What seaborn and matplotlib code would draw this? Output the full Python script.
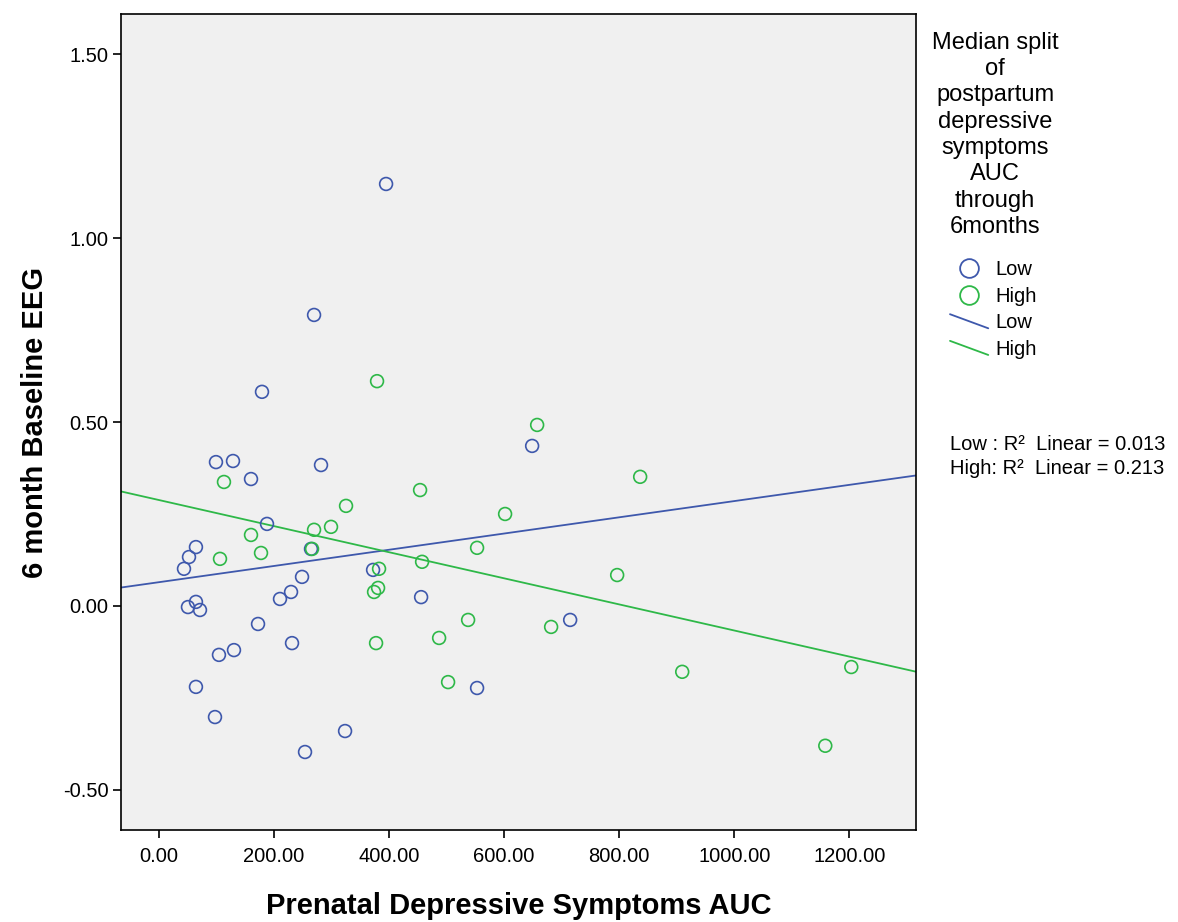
import numpy as np
import pandas as pd
import matplotlib
matplotlib.use("Agg")
import matplotlib.pyplot as plt
import seaborn as sns
from matplotlib.lines import Line2D
from matplotlib.legend_handler import HandlerLine2D

# Low postpartum group
low_x = [394.8, 269.6, 179.1, 99.1, 128.7, 160.0, 281.7, 648.7, 187.8, 264.3,
         64.3, 52.2, 43.5, 248.7, 229.6, 210.4, 372.2, 455.7, 64.3, 50.4,
         71.3, 172.2, 231.3, 104.3, 130.4, 64.3, 97.4, 323.5, 253.9, 553.0, 714.8]
low_y = [1.147, 0.791, 0.582, 0.391, 0.394, 0.345, 0.383, 0.435, 0.223, 0.155,
         0.160, 0.133, 0.101, 0.079, 0.038, 0.019, 0.098, 0.024, 0.011, -0.003,
         -0.011, -0.049, -0.101, -0.133, -0.120, -0.220, -0.302, -0.340, -0.397, -0.223, -0.038]

# High postpartum group
high_x = [113.0, 453.9, 325.2, 299.1, 269.6, 160.0, 177.4, 106.1, 266.1, 382.6,
          457.4, 380.9, 373.9, 537.4, 487.0, 377.4, 502.6, 379.1, 657.4, 836.5,
          601.7, 553.0, 796.5, 681.7, 909.6, 1203.5, 1158.3]
high_y = [0.337, 0.315, 0.272, 0.215, 0.207, 0.193, 0.144, 0.128, 0.155, 0.101,
          0.120, 0.049, 0.038, -0.038, -0.087, -0.101, -0.207, 0.611, 0.492, 0.351,
          0.250, 0.158, 0.084, -0.057, -0.179, -0.166, -0.380]

groups = ["Low", "High"]
colors = {"Low": "#3E58AC", "High": "#2EB848"}
x_ticks = [0, 200, 400, 600, 800, 1000, 1200]
y_ticks = [-0.5, 0.0, 0.5, 1.0, 1.5]
r2_labels = ["Low : R\u00b2  Linear = 0.013", "High: R\u00b2  Linear = 0.213"]
legend_title = "Median split\nof\npostpartum\ndepressive\nsymptoms\nAUC\nthrough\n6months"


class DiagonalHandler(HandlerLine2D):
    # SPSS style legend key: a short falling diagonal line
    def create_artists(self, legend, orig_handle, xdescent, ydescent,
                       width, height, fontsize, trans):
        line = Line2D([-xdescent, width - xdescent], [height - ydescent, -ydescent])
        self.update_prop(line, orig_handle, legend)
        line.set_transform(trans)
        return [line]


def make_plot():
    df = pd.DataFrame({
        "auc": low_x + high_x,
        "eeg": low_y + high_y,
        "group": ["Low"] * len(low_x) + ["High"] * len(high_x),
    })

    sns.set_style("ticks")
    plt.rcParams["font.family"] = ["Liberation Sans", "DejaVu Sans"]
    for key in ["text.color", "axes.labelcolor", "xtick.color", "ytick.color",
                "axes.edgecolor"]:
        plt.rcParams[key] = "black"

    W, H = 1178, 922
    fig = plt.figure(figsize=(W / 100, H / 100), dpi=100)
    ax = fig.add_axes([121 / W, 1 - 830 / H, (916 - 121) / W, (830 - 14) / H])
    ax.set_facecolor("#F0F0F0")
    ax.set_xlim(-66, 1316)
    ax.set_ylim(-0.609, 1.609)

    for g in groups:
        sub = df[df["group"] == g]
        sns.regplot(data=sub, x="auc", y="eeg", ax=ax, ci=None, truncate=False,
                    color=colors[g],
                    scatter_kws=dict(facecolors="none", edgecolors=colors[g], s=85,
                                     linewidths=1.2, alpha=1, zorder=3),
                    line_kws=dict(lw=1.3, zorder=2))

    ax.set_xlim(-66, 1316)
    ax.set_ylim(-0.609, 1.609)
    ax.set_xticks(x_ticks)
    ax.set_xticklabels([f"{v:.2f}" for v in x_ticks])
    ax.set_yticks(y_ticks)
    ax.set_yticklabels([f"{v:.2f}" for v in y_ticks])
    ax.tick_params(direction="out", length=6, width=1.2, labelsize=14.5,
                   colors="black", pad=3)
    ax.tick_params(axis="x", pad=6)
    for s in ax.spines.values():
        s.set_visible(True)
        s.set_color("black")
        s.set_linewidth(1.2)

    ax.set_xlabel("Prenatal Depressive Symptoms AUC", fontsize=21,
                  fontweight="bold", labelpad=19)
    ax.set_ylabel("6 month Baseline EEG", fontsize=21, fontweight="bold", labelpad=10)

    # legend: title as text, keys below
    fig.text(995 / W, 1 - 32 / H, legend_title, ha="center", va="top",
             fontsize=17, linespacing=1.25)

    handles = []
    for g in groups:
        handles.append(Line2D([], [], ls="none", marker="o", ms=13.5, mfc="none",
                              mec=colors[g], mew=1.3, label=g))
    line_handles = []
    for g in groups:
        line_handles.append(Line2D([], [], color=colors[g], lw=1.3, label=g))
    hmap = {h: DiagonalHandler() for h in line_handles}
    fig.legend(handles=handles + line_handles, handler_map=hmap,
               loc="upper left", bbox_to_anchor=(950 / W, 1 - 260 / H),
               frameon=False, fontsize=14.5, handlelength=1.9,
               handletextpad=0.35, labelspacing=0.38, borderpad=0, borderaxespad=0)

    for i, lab in enumerate(r2_labels):
        fig.text(950 / W, 1 - (444 + 25 * i) / H, lab, ha="left", va="center",
                 fontsize=14.5)

    fig.savefig("out.png", dpi=100, facecolor="white")
    plt.close(fig)


if __name__ == "__main__":
    make_plot()
